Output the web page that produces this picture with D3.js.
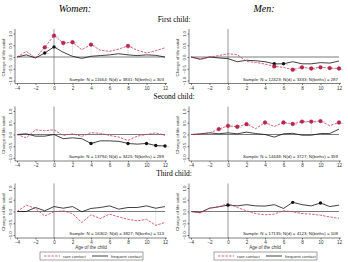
<!DOCTYPE html>
<meta charset="utf-8">
<style>
body { margin: 0; background: #fff; }
svg { font-family: "Liberation Sans", Arial, sans-serif; }
.ttl { font-family: "Liberation Serif", "DejaVu Serif", serif; }
</style>
<body>
<div id="chart"></div>
</body>
<script src="https://d3js.org/d3.v7.min.js"></script>
<script>

var width = 348, height = 262;

var ages = [-4, -3, -2, -1, 0, 1, 2, 3, 4, 5, 6, 7, 8, 9, 10, 11, 12];

// women, first child
var wFirstRare = [0, 0.24, -0.04, 0.41, 0.91, 0.6, 0.63, 0.31, 0.53, 0.29, 0.24, 0.34, 0.47, 0.29, 0.17, 0.27, 0.39];
var wFirstFreq = [0, 0.09, -0.04, 0.17, 0.43, 0.2, 0.03, -0.06, 0.03, 0.06, 0.09, 0.14, 0.09, 0.06, 0.09, 0.07, 0];
// men, first child
var mFirstRare = [0, -0.11, 0, 0.06, 0.14, 0.1, -0.19, -0.23, -0.3, -0.4, -0.44, -0.54, -0.44, -0.49, -0.44, -0.47, -0.49];
var mFirstFreq = [0, -0.09, 0, -0.04, -0.07, -0.2, -0.14, -0.16, -0.2, -0.29, -0.29, -0.2, -0.29, -0.29, -0.24, -0.26, -0.17];
// women, second child
var wSecondRare = [0, -0.14, 0.2, 0.16, 0.2, -0.04, 0.03, -0.08, 0.08, 0.05, -0.04, -0.11, -0.25, -0.07, 0, 0.07, -0.04];
var wSecondFreq = [0, 0.03, -0.07, -0.07, 0, -0.18, -0.14, -0.18, -0.38, -0.27, -0.27, -0.29, -0.38, -0.41, -0.38, -0.47, -0.49];
// men, second child
var mSecondRare = [0, 0, 0.07, 0.23, 0.37, 0.33, 0.44, 0.25, 0.51, 0.34, 0.51, 0.45, 0.55, 0.55, 0.57, 0.38, 0.51];
var mSecondFreq = [0, 0.03, 0.07, 0.03, 0.07, 0.03, 0.1, 0.04, 0, -0.11, 0.03, 0.05, -0.03, -0.03, 0.04, 0.04, 0.23];
// women, third child
var wThirdRare = [0, 0.27, 0.13, -0.19, -0.01, 0.03, -0.09, -0.47, -0.14, -0.3, -0.11, -0.23, -0.33, -0.4, -0.33, -0.59, -0.47];
var wThirdFreq = [0, 0, 0.17, 0.03, 0.21, 0.14, 0.21, -0.01, 0.13, 0.17, 0.24, 0.1, 0.17, 0.17, 0.24, 0.14, 0.21];
// men, third child
var mThirdRare = [0, -0.06, 0.14, 0.2, 0.34, 0.17, 0.03, -0.09, -0.14, -0.11, 0.03, -0.01, -0.09, -0.11, -0.16, -0.23, -0.29];
var mThirdFreq = [0, -0.04, 0.14, 0.2, 0.27, 0.24, 0.29, 0.24, 0.23, 0.29, 0.13, 0.39, 0.29, 0.24, 0.36, 0.21, 0.27];

// ages with significant estimates (markers)
var wFirstRareSig = [-1, 0, 1, 2, 4, 8], wFirstFreqSig = [-1, 0];
var mFirstRareSig = [5, 7, 8, 9, 10, 11, 12], mFirstFreqSig = [5, 6];
var wSecondRareSig = [], wSecondFreqSig = [4, 8, 10, 11, 12];
var mSecondRareSig = [-1, 0, 1, 2, 4, 6, 7, 8, 9, 10, 12], mSecondFreqSig = [];
var wThirdRareSig = [], wThirdFreqSig = [];
var mThirdRareSig = [], mThirdFreqSig = [0, 7, 10];
// ages where the two groups differ (dotted connectors)
var wFirstDiff = [1, 2, 4, 8], mFirstDiff = [], wSecondDiff = [], mSecondDiff = [9], wThirdDiff = [11], mThirdDiff = [];

var samples = [
  "Sample: N = 11664; N(d) = 3831; N(births) = 303",
  "Sample: N = 12423; N(d) = 3333; N(births) = 287",
  "Sample: N = 13794; N(d) = 3425; N(births) = 289",
  "Sample: N = 14448; N(d) = 3727; N(births) = 359",
  "Sample: N = 16302; N(d) = 3827; N(births) = 113",
  "Sample: N = 17135; N(d) = 4123; N(births) = 108"
];

var rowTitles = ["First child:", "Second child:", "Third child:"];
var yTicks = [-1, -0.5, 0, 0.5, 1];
var xTicks = [-4, -2, 0, 2, 4, 6, 8, 10, 12];

var red = "#d23a5a", redFill = "#c0234b";

var panels = [
  {col: 0, row: 0, rare: wFirstRare, freq: wFirstFreq, rs: wFirstRareSig, fs: wFirstFreqSig, diff: wFirstDiff},
  {col: 1, row: 0, rare: mFirstRare, freq: mFirstFreq, rs: mFirstRareSig, fs: mFirstFreqSig, diff: mFirstDiff},
  {col: 0, row: 1, rare: wSecondRare, freq: wSecondFreq, rs: wSecondRareSig, fs: wSecondFreqSig, diff: wSecondDiff},
  {col: 1, row: 1, rare: mSecondRare, freq: mSecondFreq, rs: mSecondRareSig, fs: mSecondFreqSig, diff: mSecondDiff},
  {col: 0, row: 2, rare: wThirdRare, freq: wThirdFreq, rs: wThirdRareSig, fs: wThirdFreqSig, diff: wThirdDiff},
  {col: 1, row: 2, rare: mThirdRare, freq: mThirdFreq, rs: mThirdRareSig, fs: mThirdFreqSig, diff: mThirdDiff}
];

var zeroY = [57, 134.5, 211.5];

var svg = d3.select("#chart").append("svg")
    .attr("width", width)
    .attr("height", height);

svg.append("text").attr("class", "ttl")
    .attr("x", 75).attr("y", 12)
    .attr("text-anchor", "middle")
    .style("font-size", "10px").style("font-style", "italic")
    .text("Women:");
svg.append("text").attr("class", "ttl")
    .attr("x", 264).attr("y", 12)
    .attr("text-anchor", "middle")
    .style("font-size", "10px").style("font-style", "italic")
    .text("Men:");

rowTitles.forEach(function(t, i) {
  svg.append("text").attr("class", "ttl")
      .attr("x", 174).attr("y", [22, 99, 176][i])
      .attr("text-anchor", "middle")
      .style("font-size", "7.5px")
      .text(t);
});

panels.forEach(function(p, pi) {
  var ox = p.col * 174;
  var z = zeroY[p.row];
  var x = d3.scaleLinear([-4, 12], [ox + 17, ox + 165]);
  var y = d3.scaleLinear([-1, 1], [z + 23.5, z - 23.5]);
  var g = svg.append("g");
  var top = z - 28, bottom = z + 26.5;

  // axes
  var yAxis = d3.axisLeft(y).tickValues(yTicks).tickSize(1.5).tickSizeOuter(0)
      .tickFormat(d3.format(".1f"));
  var ya = g.append("g").attr("transform", "translate(" + (ox + 15) + ",0)").call(yAxis);
  ya.select(".domain").attr("d", "M0," + top + "V" + bottom).attr("stroke-width", 0.5);
  ya.selectAll(".tick line").attr("stroke-width", 0.5);
  ya.selectAll(".tick text")
      .attr("x", null).attr("dy", null)
      .attr("transform", "translate(-3,0) rotate(-90)")
      .attr("text-anchor", "middle")
      .style("font-size", "4.3px").attr("fill", "#333")
      .attr("y", 0);

  var xAxis = d3.axisBottom(x).tickValues(xTicks).tickSize(1.5).tickSizeOuter(0);
  var xa = g.append("g").attr("transform", "translate(0," + bottom + ")").call(xAxis);
  xa.select(".domain").attr("d", "M" + (ox + 15) + ",0H" + (ox + 167)).attr("stroke-width", 0.5);
  xa.selectAll(".tick line").attr("stroke-width", 0.5);
  xa.selectAll(".tick text").attr("y", 3).style("font-size", "4.6px").attr("fill", "#333");

  g.append("text")
      .attr("transform", "translate(" + (ox + 5) + "," + z + ") rotate(-90)")
      .attr("text-anchor", "middle")
      .style("font-size", "4.3px").attr("fill", "#333")
      .text("Change of life satisf.");

  // reference lines
  g.append("line")
      .attr("x1", x(-4)).attr("x2", x(12))
      .attr("y1", y(0)).attr("y2", y(0))
      .attr("stroke", "#222").attr("stroke-width", 0.6);
  g.append("line")
      .attr("x1", x(0)).attr("x2", x(0))
      .attr("y1", top).attr("y2", bottom)
      .attr("stroke", "#555").attr("stroke-width", 0.6);

  // dotted connectors
  g.selectAll(".conn").data(p.diff).join("line")
      .attr("x1", d => x(d)).attr("x2", d => x(d))
      .attr("y1", d => y(p.rare[ages.indexOf(d)]))
      .attr("y2", d => y(p.freq[ages.indexOf(d)]))
      .attr("stroke", "#c9a0aa").attr("stroke-width", 0.6)
      .attr("stroke-dasharray", "1,1");

  var line = d3.line().x((d, i) => x(ages[i])).y(d => y(d));

  g.append("path").datum(p.freq)
      .attr("d", line).attr("fill", "none")
      .attr("stroke", "#111").attr("stroke-width", 0.8);
  g.append("path").datum(p.rare)
      .attr("d", line).attr("fill", "none")
      .attr("stroke", red).attr("stroke-width", 0.8)
      .attr("stroke-dasharray", "2.5,1.2");

  g.selectAll(".fm").data(p.fs).join("circle")
      .attr("cx", d => x(d)).attr("cy", d => y(p.freq[ages.indexOf(d)]))
      .attr("r", 1.7).attr("fill", "#111");
  g.selectAll(".rm").data(p.rs).join("circle")
      .attr("cx", d => x(d)).attr("cy", d => y(p.rare[ages.indexOf(d)]))
      .attr("r", 1.9).attr("fill", redFill).attr("stroke", "#8a1533").attr("stroke-width", 0.3);

  // significance stars
  g.selectAll(".st").data(p.rs.concat(p.fs)).join("text")
      .attr("x", d => x(d) + 2)
      .attr("y", (d, i) => y(i < p.rs.length ? p.rare[ages.indexOf(d)] : p.freq[ages.indexOf(d)]) + 3)
      .style("font-size", "3px").attr("fill", "#999")
      .text("**");

  g.append("text")
      .attr("x", ox + 164).attr("y", z + 23.5)
      .attr("text-anchor", "end")
      .style("font-size", "4.4px").attr("fill", "#222")
      .text(samples[pi]);

  if (p.row === 2) {
    g.append("text")
        .attr("x", ox + 91).attr("y", 249)
        .attr("text-anchor", "middle")
        .style("font-size", "4.6px").attr("fill", "#333")
        .text("Age of the child");
    var lg = g.append("g").attr("transform", "translate(" + (ox + 40) + ",252)");
    lg.append("rect").attr("width", 103).attr("height", 8)
        .attr("fill", "#fff").attr("stroke", "#444").attr("stroke-width", 0.5);
    lg.append("line").attr("x1", 4).attr("x2", 20).attr("y1", 4).attr("y2", 4)
        .attr("stroke", red).attr("stroke-width", 0.8).attr("stroke-dasharray", "2.5,1.2");
    lg.append("text").attr("x", 23).attr("y", 5.6)
        .style("font-size", "4.3px").attr("fill", "#333").text("rare contact");
    lg.append("line").attr("x1", 52).attr("x2", 68).attr("y1", 4).attr("y2", 4)
        .attr("stroke", "#111").attr("stroke-width", 0.8);
    lg.append("text").attr("x", 71).attr("y", 5.6)
        .style("font-size", "4.3px").attr("fill", "#333").text("frequent contact");
  }
});

</script>
